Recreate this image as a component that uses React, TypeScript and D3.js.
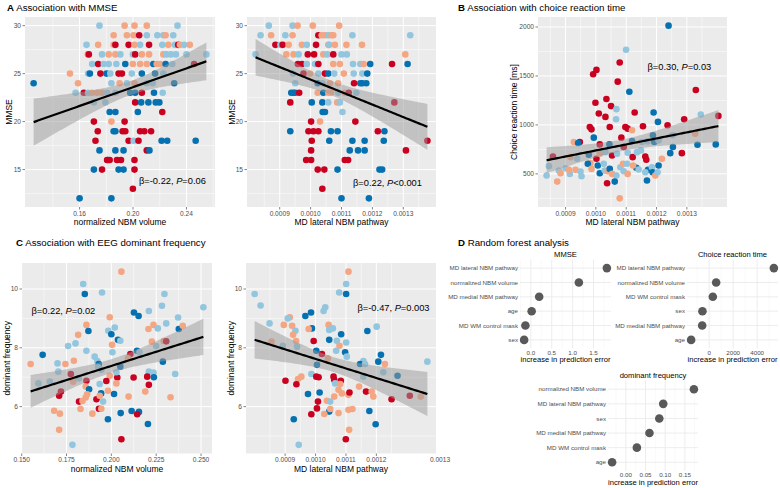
import React from "react";
import * as d3 from "d3";

// x, y, group  (r = dark red, o = light orange, l = light blue, b = dark blue)
type Pt = [number, number, string];

const GROUP_COLORS: Record<string, string> = {
  r: "#ca0020",
  o: "#f4a582",
  l: "#92c5de",
  b: "#0571b0",
};

// --- A: MMSE vs normalized NBM volume
const mmseByVolume: Pt[] = [
  [0.1749, 30, "l"], [0.1937, 30, "o"], [0.2011, 30, "o"], [0.2103, 30, "o"], [0.2333, 30, "l"],
  [0.1855, 29, "o"], [0.1954, 29, "o"], [0.2004, 29, "o"], [0.2046, 29, "r"], [0.2103, 29, "l"], [0.2182, 29, "l"], [0.2227, 29, "l"], [0.2244, 29, "o"], [0.2301, 29, "l"],
  [0.1652, 28, "l"], [0.1739, 28, "o"], [0.1855, 28, "o"], [0.1868, 28, "r"], [0.1967, 28, "r"], [0.2011, 28, "o"], [0.2053, 28, "l"], [0.212, 28, "r"], [0.2219, 28, "l"], [0.2264, 28, "o"], [0.2313, 28, "l"], [0.2338, 28, "r"], [0.2351, 28, "o"], [0.2383, 28, "l"], [0.2425, 28, "o"],
  [0.1662, 27, "o"], [0.1669, 27, "r"], [0.1768, 27, "l"], [0.1818, 27, "o"], [0.1868, 27, "o"], [0.1905, 27, "l"], [0.1999, 27, "l"], [0.2016, 27, "r"], [0.2066, 27, "o"], [0.212, 27, "o"], [0.2227, 27, "o"], [0.2251, 27, "l"], [0.2284, 27, "l"], [0.2321, 27, "l"], [0.24, 27, "l"], [0.2549, 27, "l"],
  [0.1694, 26, "l"], [0.1739, 26, "r"], [0.1781, 26, "l"], [0.1818, 26, "l"], [0.1875, 26, "l"], [0.1942, 26, "b"], [0.1999, 26, "o"], [0.2053, 26, "o"], [0.2103, 26, "o"], [0.2152, 26, "b"], [0.2177, 26, "o"], [0.2202, 26, "o"], [0.2244, 26, "b"], [0.2294, 26, "l"], [0.2457, 26, "r"],
  [0.1528, 25, "o"], [0.1664, 25, "l"], [0.1677, 25, "b"], [0.1756, 25, "r"], [0.1801, 25, "b"], [0.183, 25, "l"], [0.1892, 25, "r"], [0.1917, 25, "r"], [0.1991, 25, "l"], [0.2066, 25, "b"], [0.2165, 25, "b"], [0.2227, 25, "l"],
  [0.1256, 24, "b"], [0.1588, 24, "o"], [0.1838, 24, "l"], [0.19, 24, "o"], [0.1954, 24, "l"], [0.2011, 24, "o"], [0.2103, 24, "l"], [0.2147, 24, "l"], [0.2308, 24, "b"],
  [0.157, 23, "l"], [0.1632, 23, "r"], [0.1664, 23, "l"], [0.1694, 23, "o"], [0.1731, 23, "o"], [0.1768, 23, "o"], [0.1806, 23, "l"], [0.1868, 23, "l"], [0.1979, 23, "b"], [0.2016, 23, "b"], [0.2066, 23, "r"], [0.2157, 23, "b"], [0.2222, 23, "l"],
  [0.1707, 22, "l"], [0.1793, 22, "l"], [0.2016, 22, "r"], [0.2061, 22, "b"], [0.2115, 22, "b"], [0.217, 22, "b"], [0.2197, 22, "b"],
  [0.1825, 21, "b"], [0.1868, 21, "b"], [0.2036, 21, "b"], [0.2219, 21, "r"],
  [0.1707, 20, "r"], [0.1838, 20, "o"], [0.1937, 20, "r"],
  [0.1736, 19, "r"], [0.1855, 19, "b"], [0.1868, 19, "b"], [0.1922, 19, "r"], [0.1942, 19, "r"], [0.2053, 19, "r"], [0.2085, 19, "r"], [0.2135, 19, "r"],
  [0.1719, 18, "r"], [0.1967, 18, "r"], [0.2004, 18, "l"], [0.2041, 18, "r"], [0.2214, 18, "b"], [0.2256, 18, "b"], [0.2469, 18, "b"],
  [0.1749, 17, "b"], [0.1868, 17, "b"], [0.1929, 17, "b"], [0.2103, 17, "r"], [0.2123, 17, "b"],
  [0.1811, 16, "b"], [0.1806, 16, "r"], [0.1825, 16, "r"], [0.188, 16, "r"], [0.191, 16, "r"], [0.2011, 16, "r"],
  [0.1707, 15, "b"], [0.1768, 15, "r"], [0.1892, 15, "b"], [0.1929, 15, "b"], [0.2011, 15, "r"],
  [0.1999, 13, "r"],
  [0.16, 12, "b"], [0.1838, 12, "b"],
];

// --- A: MMSE vs MD lateral NBM pathway
const mmseByLateral: Pt[] = [
  [8.647e-4, 30, "l"], [9.417e-4, 30, "l"], [9.578e-4, 30, "o"], [10.07e-4, 30, "o"], [10.925e-4, 30, "o"],
  [8.38e-4, 29, "l"], [8.722e-4, 29, "o"], [9.182e-4, 29, "l"], [9.417e-4, 29, "o"], [10.251e-4, 29, "r"], [10.358e-4, 29, "o"], [10.465e-4, 29, "o"], [10.572e-4, 29, "l"], [10.679e-4, 29, "o"], [10.733e-4, 29, "o"], [11.353e-4, 29, "l"], [13.225e-4, 29, "l"],
  [8.861e-4, 28, "r"], [9.021e-4, 28, "l"], [9.096e-4, 28, "r"], [9.289e-4, 28, "o"], [9.717e-4, 28, "o"], [9.877e-4, 28, "l"], [10.176e-4, 28, "r"], [10.572e-4, 28, "o"], [10.604e-4, 28, "l"], [10.786e-4, 28, "o"], [11.16e-4, 28, "o"], [11.663e-4, 28, "o"],
  [8.219e-4, 27, "l"], [9.214e-4, 27, "o"], [9.449e-4, 27, "o"], [9.61e-4, 27, "l"], [9.909e-4, 27, "r"], [10.112e-4, 27, "r"], [10.412e-4, 27, "o"], [10.54e-4, 27, "l"], [10.733e-4, 27, "r"], [11.0e-4, 27, "l"], [11.171e-4, 27, "l"], [13.064e-4, 27, "o"],
  [9.588e-4, 26, "r"], [9.717e-4, 26, "r"], [9.877e-4, 26, "l"], [10.144e-4, 26, "l"], [10.251e-4, 26, "r"], [10.733e-4, 26, "o"], [10.947e-4, 26, "o"], [11.374e-4, 26, "l"], [11.61e-4, 26, "l"], [11.717e-4, 26, "o"], [11.93e-4, 26, "b"], [12.636e-4, 26, "r"], [13.139e-4, 26, "b"],
  [9.428e-4, 25, "l"], [9.77e-4, 25, "r"], [9.984e-4, 25, "o"], [10.251e-4, 25, "l"], [10.465e-4, 25, "r"], [10.572e-4, 25, "b"], [10.765e-4, 25, "l"], [11.075e-4, 25, "o"], [11.396e-4, 25, "l"], [11.674e-4, 25, "l"], [11.834e-4, 25, "b"],
  [9.503e-4, 24, "l"], [10.23e-4, 24, "b"], [10.38e-4, 24, "l"], [10.626e-4, 24, "o"], [10.893e-4, 24, "o"], [11.406e-4, 24, "r"], [11.61e-4, 24, "b"], [11.674e-4, 24, "b"], [11.802e-4, 24, "b"],
  [9.374e-4, 23, "b"], [9.449e-4, 23, "b"], [9.503e-4, 23, "b"], [9.631e-4, 23, "r"], [10.23e-4, 23, "o"], [10.412e-4, 23, "b"], [10.572e-4, 23, "o"], [10.658e-4, 23, "o"], [10.893e-4, 23, "l"], [11.107e-4, 23, "o"], [11.235e-4, 23, "r"], [11.481e-4, 23, "l"],
  [9.342e-4, 22, "r"], [10.037e-4, 22, "b"], [10.38e-4, 22, "b"], [10.572e-4, 22, "l"], [10.861e-4, 22, "o"], [10.947e-4, 22, "l"], [12.711e-4, 22, "r"],
  [10.39e-4, 21, "b"], [10.465e-4, 21, "b"], [11.032e-4, 21, "l"],
  [10.016e-4, 20, "r"], [10.305e-4, 20, "o"], [11.449e-4, 20, "r"],
  [9.342e-4, 19, "b"], [9.93e-4, 19, "r"], [10.091e-4, 19, "r"], [10.251e-4, 19, "r"], [10.658e-4, 19, "b"], [10.872e-4, 19, "b"], [12.176e-4, 19, "r"], [12.39e-4, 19, "b"],
  [10.037e-4, 18, "r"], [10.604e-4, 18, "b"], [11.353e-4, 18, "b"], [11.749e-4, 18, "b"], [12.369e-4, 18, "b"], [13.781e-4, 18, "r"],
  [10.016e-4, 17, "r"], [11.267e-4, 17, "b"], [11.535e-4, 17, "b"], [11.749e-4, 17, "b"], [13.086e-4, 17, "r"],
  [9.856e-4, 16, "r"], [10.016e-4, 16, "r"], [11.107e-4, 16, "r"], [11.214e-4, 16, "r"],
  [10.23e-4, 15, "r"], [10.444e-4, 15, "r"], [10.872e-4, 15, "b"], [12.23e-4, 15, "b"], [12.316e-4, 15, "b"],
  [10.38e-4, 13, "r"],
  [11.0e-4, 12, "b"], [11.888e-4, 12, "b"],
];

// --- B: choice reaction time [ms] vs MD lateral NBM pathway
const crtByLateral: Pt[] = [
  [12.397e-4, 2014, "b"], [10.995e-4, 1767, "l"], [10.786e-4, 1637, "r"], [10.019e-4, 1562, "r"], [9.91e-4, 1517, "r"],
  [10.721e-4, 1442, "r"], [11.104e-4, 1339, "b"], [13.296e-4, 1356, "r"], [10.348e-4, 1264, "r"], [9.986e-4, 1226, "r"],
  [10.501e-4, 1192, "r"], [10.677e-4, 1161, "l"], [10.096e-4, 1116, "r"], [11.279e-4, 1127, "r"], [11.904e-4, 1127, "b"],
  [10.315e-4, 1082, "r"], [10.666e-4, 1058, "l"], [12.047e-4, 1031, "b"], [12.912e-4, 1058, "r"], [13.46e-4, 1106, "l"],
  [14.041e-4, 1092, "r"], [9.8e-4, 979, "r"], [9.855e-4, 955, "r"], [10.458e-4, 979, "r"], [10.973e-4, 979, "r"],
  [11.049e-4, 962, "r"], [11.192e-4, 945, "o"], [11.553e-4, 986, "r"], [12.364e-4, 997, "r"], [9.932e-4, 870, "b"],
  [10.841e-4, 870, "r"], [11.882e-4, 894, "b"], [12.529e-4, 894, "l"], [13.274e-4, 911, "o"], [9.274e-4, 825, "o"],
  [9.471e-4, 825, "r"], [9.416e-4, 815, "b"], [10.447e-4, 801, "b"], [10.129e-4, 801, "r"], [10.918e-4, 774, "r"],
  [11.192e-4, 836, "b"], [11.521e-4, 825, "l"], [11.707e-4, 832, "l"], [11.926e-4, 825, "b"], [12.068e-4, 842, "l"],
  [12.54e-4, 774, "b"], [13.953e-4, 801, "b"], [13.351e-4, 798, "b"], [8.584e-4, 678, "r"], [9.164e-4, 671, "o"],
  [9.384e-4, 654, "l"], [9.767e-4, 695, "b"], [10.019e-4, 654, "r"], [10.129e-4, 705, "o"], [10.315e-4, 722, "l"],
  [10.534e-4, 688, "r"], [10.699e-4, 705, "l"], [11.049e-4, 716, "l"], [11.214e-4, 671, "r"], [11.356e-4, 722, "l"],
  [11.488e-4, 740, "l"], [11.63e-4, 678, "r"], [11.663e-4, 644, "r"], [12.452e-4, 712, "b"], [12.836e-4, 712, "r"],
  [8.452e-4, 579, "l"], [8.781e-4, 534, "l"], [8.836e-4, 507, "o"], [9.0e-4, 558, "l"], [9.142e-4, 500, "l"],
  [8.726e-4, 421, "o"], [9.11e-4, 541, "o"], [9.329e-4, 541, "o"], [9.493e-4, 524, "l"], [9.526e-4, 476, "l"],
  [9.822e-4, 610, "o"], [9.734e-4, 603, "b"], [9.855e-4, 551, "o"], [10.063e-4, 586, "b"], [10.129e-4, 507, "b"],
  [10.26e-4, 603, "l"], [10.293e-4, 534, "l"], [10.392e-4, 527, "o"], [10.458e-4, 551, "b"], [10.534e-4, 500, "o"],
  [10.677e-4, 483, "l"], [10.622e-4, 421, "b"], [10.37e-4, 404, "r"], [10.808e-4, 568, "l"], [10.896e-4, 603, "o"],
  [10.918e-4, 527, "l"], [11.027e-4, 603, "l"], [11.049e-4, 500, "o"], [10.786e-4, 250, "o"], [11.334e-4, 562, "b"],
  [11.411e-4, 545, "l"], [11.225e-4, 586, "o"], [11.718e-4, 541, "b"], [11.849e-4, 568, "l"], [11.685e-4, 432, "b"],
  [11.63e-4, 517, "l"], [11.871e-4, 517, "b"], [11.959e-4, 483, "o"], [12.036e-4, 517, "l"], [12.178e-4, 654, "o"],
  [12.068e-4, 586, "b"], [8.375e-4, 483, "l"],
];

// --- C: EEG dominant frequency vs normalized NBM volume
const freqByVolume: Pt[] = [
  [0.2056, 10.59, "o"], [0.1843, 10.17, "l"], [0.1852, 9.83, "b"], [0.1948, 9.88, "l"], [0.2296, 9.83, "l"],
  [0.2282, 9.43, "l"], [0.2513, 9.38, "l"], [0.2126, 9.2, "b"], [0.2152, 9.08, "b"], [0.2209, 9.25, "l"],
  [0.1991, 9.04, "o"], [0.2372, 9.03, "l"], [0.2235, 8.78, "o"], [0.2259, 8.66, "l"], [0.2207, 8.64, "o"],
  [0.2376, 8.64, "b"], [0.2398, 8.75, "o"], [0.2306, 8.83, "l"], [0.1861, 8.78, "o"], [0.2019, 8.69, "l"],
  [0.1983, 8.58, "l"], [0.1872, 8.57, "b"], [0.2, 8.46, "b"], [0.1815, 8.44, "o"], [0.18, 8.15, "l"],
  [0.1759, 8.06, "l"], [0.1617, 7.76, "b"], [0.2004, 8.1, "o"], [0.2037, 8.27, "b"], [0.205, 8.24, "l"],
  [0.2226, 8.21, "o"], [0.225, 8.06, "l"], [0.2292, 8.23, "o"], [0.2306, 8.22, "r"], [0.1861, 7.9, "l"],
  [0.2006, 7.85, "l"], [0.2143, 7.9, "b"], [0.2157, 7.85, "l"], [0.2106, 7.79, "r"], [0.2093, 7.64, "o"],
  [0.1907, 7.7, "l"], [0.1922, 7.55, "l"], [0.1791, 7.56, "o"], [0.1744, 7.45, "o"], [0.17, 7.47, "l"],
  [0.155, 7.45, "o"], [0.193, 7.45, "b"], [0.2287, 7.53, "b"], [0.2356, 7.11, "l"], [0.2209, 7.19, "l"],
  [0.2235, 7.16, "l"], [0.2237, 7.0, "b"], [0.22, 7.02, "r"], [0.2124, 6.99, "r"], [0.2033, 6.99, "r"],
  [0.2028, 7.17, "l"], [0.205, 7.36, "b"], [0.1926, 7.34, "l"], [0.1944, 7.25, "l"], [0.1991, 7.05, "o"],
  [0.2028, 6.79, "o"], [0.1972, 6.87, "r"], [0.1935, 6.77, "l"], [0.1774, 7.11, "r"], [0.1861, 6.88, "r"],
  [0.1819, 6.96, "l"], [0.1857, 6.68, "o"], [0.1787, 6.85, "o"], [0.1593, 6.79, "l"], [0.1657, 6.85, "l"],
  [0.1704, 7.19, "l"], [0.1719, 6.51, "r"], [0.1709, 6.37, "r"], [0.1876, 6.59, "b"], [0.1865, 6.42, "o"],
  [0.1857, 6.31, "o"], [0.182, 6.17, "r"], [0.1839, 6.19, "o"], [0.1943, 6.45, "b"], [0.1917, 6.25, "r"],
  [0.1935, 6.37, "o"], [0.1931, 5.93, "r"], [0.1944, 5.93, "o"], [0.1954, 6.17, "l"], [0.1981, 6.54, "o"],
  [0.2015, 6.43, "b"], [0.2096, 6.34, "o"], [0.2189, 6.51, "o"], [0.2209, 6.74, "r"], [0.233, 6.32, "o"],
  [0.1981, 5.57, "b"], [0.2052, 5.78, "b"], [0.2113, 5.85, "b"], [0.2154, 5.82, "b"], [0.2144, 5.74, "r"],
  [0.2204, 5.41, "b"], [0.1681, 5.86, "o"], [0.1713, 5.76, "o"], [0.1709, 5.21, "o"], [0.1894, 5.76, "o"],
  [0.1828, 5.92, "o"], [0.2056, 4.89, "r"], [0.1783, 4.7, "l"],
];

// --- C: EEG dominant frequency vs MD lateral NBM pathway
const freqByLateral: Pt[] = [
  [11.083e-4, 10.59, "o"], [11.007e-4, 10.17, "l"], [10.778e-4, 9.88, "l"], [11.007e-4, 9.83, "b"], [7.997e-4, 9.83, "l"],
  [8.193e-4, 9.44, "l"], [10.32e-4, 9.38, "l"], [10.265e-4, 9.25, "l"], [9.851e-4, 9.2, "b"], [9.665e-4, 9.08, "b"],
  [9.153e-4, 9.04, "o"], [9.087e-4, 9.0, "l"], [8.487e-4, 8.83, "l"], [8.956e-4, 8.78, "o"], [9.229e-4, 8.75, "o"],
  [9.883e-4, 8.66, "b"], [9.774e-4, 8.64, "o"], [9.338e-4, 8.58, "l"], [10.429e-4, 8.78, "o"], [10.45e-4, 8.61, "l"],
  [10.57e-4, 8.66, "l"], [10.843e-4, 8.46, "b"], [9.262e-4, 8.44, "o"], [11.704e-4, 8.57, "b"], [12.01e-4, 8.72, "l"],
  [9.938e-4, 8.23, "r"], [9.36e-4, 8.23, "o"], [10.45e-4, 8.27, "b"], [10.701e-4, 8.24, "l"], [11.007e-4, 8.18, "l"],
  [10.788e-4, 8.07, "o"], [8.553e-4, 8.21, "o"], [8.924e-4, 8.07, "l"], [9.393e-4, 8.04, "l"], [10.679e-4, 7.9, "l"],
  [10.025e-4, 7.9, "b"], [10.21e-4, 7.79, "r"], [10.974e-4, 7.85, "b"], [11.028e-4, 7.7, "l"], [10.407e-4, 7.64, "o"],
  [12.152e-4, 7.76, "b"], [12.064e-4, 7.53, "b"], [12.282e-4, 7.45, "o"], [11.574e-4, 7.55, "l"], [11.465e-4, 7.45, "b"],
  [11.628e-4, 7.45, "l"], [13.678e-4, 7.53, "l"], [10.047e-4, 7.42, "b"], [9.862e-4, 7.11, "l"], [10.025e-4, 7.02, "r"],
  [10.101e-4, 7.0, "r"], [10.592e-4, 7.02, "r"], [10.614e-4, 6.91, "r"], [10.832e-4, 6.88, "r"], [10.647e-4, 6.79, "l"],
  [10.81e-4, 6.77, "o"], [9.534e-4, 7.02, "o"], [9.425e-4, 6.94, "o"], [9.011e-4, 6.88, "r"], [9.371e-4, 6.76, "r"],
  [12.697e-4, 7.05, "b"], [12.228e-4, 7.17, "l"], [11.574e-4, 7.02, "l"], [11.432e-4, 6.68, "o"], [11.661e-4, 6.51, "r"],
  [11.846e-4, 6.51, "o"], [11.901e-4, 6.34, "o"], [12.501e-4, 6.25, "r"], [13.1e-4, 6.37, "r"], [13.46e-4, 6.34, "o"],
  [9.752e-4, 6.43, "b"], [10.134e-4, 6.48, "b"], [10.756e-4, 6.57, "o"], [10.865e-4, 6.45, "o"], [11.083e-4, 6.4, "o"],
  [11.116e-4, 6.48, "r"], [10.614e-4, 6.34, "o"], [10.374e-4, 6.2, "o"], [10.483e-4, 6.17, "l"], [10.08e-4, 6.17, "r"],
  [10.047e-4, 5.94, "r"], [10.45e-4, 5.83, "b"], [10.483e-4, 5.92, "o"], [9.862e-4, 5.74, "r"], [10.287e-4, 5.75, "o"],
  [10.756e-4, 5.78, "o"], [11.083e-4, 5.89, "o"], [11.214e-4, 5.92, "o"], [11.77e-4, 5.85, "b"], [9.284e-4, 5.57, "b"],
  [11.977e-4, 5.4, "b"], [11.105e-4, 5.21, "o"], [10.996e-4, 4.89, "r"], [9.447e-4, 4.7, "l"],
];

// --- D: random forest variable importance (top to bottom)
const rfMmseVars = ["MD lateral NBM pathway", "normalized NBM volume", "MD medial NBM pathway", "age", "MD WM control mask", "sex"];
const rfMmseVals = [1.82, 1.15, 0.2, 0.02, -0.13, -0.16];
const rfCrtVars = ["MD lateral NBM pathway", "normalized NBM volume", "MD WM control mask", "sex", "MD medial NBM pathway", "age"];
const rfCrtVals = [5390, 583, 306, -558, -580, -1500];
const rfFreqVars = ["normalized NBM volume", "MD lateral NBM pathway", "sex", "MD medial NBM pathway", "MD WM control mask", "age"];
const rfFreqVals = [0.173, 0.095, 0.085, 0.06, 0.028, -0.035];

// tick values
const ticksVolA = [0.16, 0.2, 0.24];
const ticksMmse = [15, 20, 25, 30];
const ticksLateral = [0.0009, 0.001, 0.0011, 0.0012, 0.0013];
const ticksCrt = [500, 1000, 1500, 2000];
const ticksVolC = [0.15, 0.175, 0.2, 0.225, 0.25];
const ticksFreq = [6, 8, 10];
const ticksLateralC = [0.0009, 0.001, 0.0011, 0.0012];
const ticksRfMmse = [0, 0.5, 1, 1.5];
const ticksRfCrt = [0, 2000, 4000];
const ticksRfFreq = [0, 0.05, 0.1, 0.15];

const FONT = "'Liberation Sans', Arial, Helvetica, sans-serif";

interface Box { l: number; r: number; t: number; b: number }

const expand = (lo: number, hi: number, f = 0.05): [number, number] => {
  const d = hi - lo;
  return [lo - d * f, hi + d * f];
};

const minorOf = (ticks: number[], dom: number[]) => {
  const step = ticks[1] - ticks[0];
  const out = [ticks[0] - step / 2, ...ticks.map((t) => t + step / 2)];
  return out.filter((v) => v > Math.min(dom[0], dom[1]) && v < Math.max(dom[0], dom[1]));
};

interface ScatterProps {
  data: Pt[];
  box: Box;
  xTicks: number[];
  yTicks: number[];
  xFmt: (v: number) => string;
  yFmt: (v: number) => string;
  xTitle: string;
  yTitle: string;
  yTitleX: number;
  note: [string, string];
  noteX: number;
  noteY: number;
  edgeLabel?: string;
}

const Scatter: React.FC<ScatterProps> = ({
  data, box, xTicks, yTicks, xFmt, yFmt, xTitle, yTitle, yTitleX, note, noteX, noteY, edgeLabel,
}) => {
  const [xMin, xMax] = d3.extent(data, (d) => d[0]) as [number, number];
  const [yMin, yMax] = d3.extent(data, (d) => d[1]) as [number, number];
  const x = d3.scaleLinear().domain(expand(xMin, xMax)).range([box.l, box.r]);
  const y = d3.scaleLinear().domain(expand(yMin, yMax)).range([box.b, box.t]);

  // linear fit with 95% band
  const n = data.length;
  const mx = d3.mean(data, (d) => d[0])!;
  const my = d3.mean(data, (d) => d[1])!;
  const sxx = d3.sum(data, (d) => (d[0] - mx) ** 2);
  const sxy = d3.sum(data, (d) => (d[0] - mx) * (d[1] - my));
  const slope = sxy / sxx;
  const icpt = my - slope * mx;
  const rss = d3.sum(data, (d) => (d[1] - (icpt + slope * d[0])) ** 2);
  const s = Math.sqrt(rss / (n - 2));
  const tq = 1.98;
  const grid = d3.range(0, 81).map((i) => xMin + ((xMax - xMin) * i) / 80);
  const band = grid.map((gx) => {
    const fit = icpt + slope * gx;
    const se = s * Math.sqrt(1 / n + (gx - mx) ** 2 / sxx);
    return { gx, fit, lo: fit - tq * se, hi: fit + tq * se };
  });
  const area = d3
    .area<{ gx: number; lo: number; hi: number }>()
    .x((d) => x(d.gx))
    .y0((d) => y(d.lo))
    .y1((d) => y(d.hi));
  const line = d3
    .line<{ gx: number; fit: number }>()
    .x((d) => x(d.gx))
    .y((d) => y(d.fit));

  const xMinor = minorOf(xTicks, x.domain());
  const yMinor = minorOf(yTicks, y.domain());
  const clipId = `clip-${Math.round(box.l)}-${Math.round(box.t)}`;

  return (
    <g fontFamily={FONT}>
      <defs>
        <clipPath id={clipId}>
          <rect x={box.l} y={box.t} width={box.r - box.l} height={box.b - box.t} />
        </clipPath>
      </defs>
      <rect x={box.l} y={box.t} width={box.r - box.l} height={box.b - box.t} fill="#ebebeb" />
      {xMinor.map((v) => (
        <line key={`xm${v}`} x1={x(v)} x2={x(v)} y1={box.t} y2={box.b} stroke="#fff" strokeWidth={0.5} />
      ))}
      {yMinor.map((v) => (
        <line key={`ym${v}`} x1={box.l} x2={box.r} y1={y(v)} y2={y(v)} stroke="#fff" strokeWidth={0.5} />
      ))}
      {xTicks.map((v) => (
        <line key={`xg${v}`} x1={x(v)} x2={x(v)} y1={box.t} y2={box.b} stroke="#fff" strokeWidth={1} />
      ))}
      {yTicks.map((v) => (
        <line key={`yg${v}`} x1={box.l} x2={box.r} y1={y(v)} y2={y(v)} stroke="#fff" strokeWidth={1} />
      ))}
      <g clipPath={`url(#${clipId})`}>
        {data.map((d, i) => (
          <circle key={i} cx={x(d[0])} cy={y(d[1])} r={3.3} fill={GROUP_COLORS[d[2]]} />
        ))}
        <path d={area(band) ?? ""} fill="#999999" fillOpacity={0.5} />
        <path d={line(band) ?? ""} fill="none" stroke="#000" strokeWidth={2.2} />
      </g>
      {/* axes */}
      {xTicks.map((v) => (
        <g key={`xt${v}`}>
          <line x1={x(v)} x2={x(v)} y1={box.b} y2={box.b + 2.5} stroke="#333" strokeWidth={0.6} />
          <text x={x(v)} y={box.b + 8.5} fontSize={6.6} fill="#4d4d4d" textAnchor="middle">
            {xFmt(v)}
          </text>
        </g>
      ))}
      {edgeLabel && (
        <text x={box.r + 4} y={box.b + 8.5} fontSize={6.6} fill="#4d4d4d" textAnchor="middle">
          {edgeLabel}
        </text>
      )}
      {yTicks.map((v) => (
        <g key={`yt${v}`}>
          <line x1={box.l - 2.5} x2={box.l} y1={y(v)} y2={y(v)} stroke="#333" strokeWidth={0.6} />
          <text x={box.l - 4} y={y(v) + 2.4} fontSize={6.6} fill="#4d4d4d" textAnchor="end">
            {yFmt(v)}
          </text>
        </g>
      ))}
      <text x={(box.l + box.r) / 2} y={box.b + 18} fontSize={8.5} textAnchor="middle" fill="#000">
        {xTitle}
      </text>
      <text
        transform={`translate(${yTitleX},${(box.t + box.b) / 2}) rotate(-90)`}
        fontSize={8.5}
        textAnchor="middle"
        dy={3}
        fill="#000"
      >
        {yTitle}
      </text>
      <text x={noteX} y={noteY} fontSize={9.3} fill="#000">
        {note[0]}
        <tspan fontStyle="italic">P</tspan>
        {note[1]}
      </text>
    </g>
  );
};

interface RfProps {
  vars: string[];
  vals: number[];
  box: Box;
  ticks: number[];
  fmt: (v: number) => string;
  title: string;
}

const RfPanel: React.FC<RfProps> = ({ vars, vals, box, ticks, fmt, title }) => {
  const [lo, hi] = d3.extent(vals) as [number, number];
  const x = d3.scaleLinear().domain(expand(lo, hi)).range([box.l, box.r]);
  const y = d3.scalePoint<string>().domain(vars).range([box.t, box.b]).padding(0.6);
  const minor = minorOf(ticks, x.domain());
  return (
    <g fontFamily={FONT}>
      {minor.map((v) => (
        <line key={`m${v}`} x1={x(v)} x2={x(v)} y1={box.t} y2={box.b} stroke="#f2f2f2" strokeWidth={0.5} />
      ))}
      {ticks.map((v) => (
        <line key={`g${v}`} x1={x(v)} x2={x(v)} y1={box.t} y2={box.b} stroke="#ebebeb" strokeWidth={0.9} />
      ))}
      {vars.map((v) => (
        <line key={`h${v}`} x1={box.l} x2={box.r} y1={y(v)!} y2={y(v)!} stroke="#ebebeb" strokeWidth={0.9} />
      ))}
      {vars.map((v, i) => (
        <circle key={`p${v}`} cx={x(vals[i])} cy={y(v)!} r={4.3} fill="#595959" />
      ))}
      {vars.map((v) => (
        <text key={`l${v}`} x={box.l - 2} y={y(v)! + 2.1} fontSize={6.2} fill="#4d4d4d" textAnchor="end">
          {v}
        </text>
      ))}
      {ticks.map((v) => (
        <text key={`t${v}`} x={x(v)} y={box.b + 6} fontSize={6.2} fill="#4d4d4d" textAnchor="middle">
          {fmt(v)}
        </text>
      ))}
      <text x={(box.l + box.r) / 2} y={box.b + 13.5} fontSize={7.6} textAnchor="middle" fill="#000">
        increase in prediction error
      </text>
      <text x={(box.l + box.r) / 2} y={box.t - 2.5} fontSize={7.6} textAnchor="middle" fill="#000">
        {title}
      </text>
    </g>
  );
};

const Heading: React.FC<{ x: number; y: number; letter: string; text: string }> = ({ x, y, letter, text }) => (
  <text x={x} y={y} fontFamily={FONT} fontSize={9.7} fill="#000">
    <tspan fontWeight="bold">{letter}</tspan> {text}
  </text>
);

const f2 = d3.format(".2f");
const f3 = d3.format(".3f");
const f4 = d3.format(".4f");
const f1 = d3.format(".1f");
const fd = d3.format("d");

export default function App() {
  return (
    <svg
      width={780}
      height={488}
      style={{ position: "absolute", left: 0, top: 0, background: "#fff" }}
    >
      <rect width={780} height={488} fill="#fff" />
      <Heading x={7} y={10.5} letter="A" text="Association with MMSE" />
      <Heading x={458} y={10.5} letter="B" text="Association with choice reaction time" />
      <Heading x={16} y={246} letter="C" text="Association with EEG dominant frequency" />
      <Heading x={458} y={246} letter="D" text="Random forest analysis" />

      <Scatter
        data={mmseByVolume}
        box={{ l: 25, r: 215, t: 17, b: 207 }}
        xTicks={ticksVolA}
        yTicks={ticksMmse}
        xFmt={f2}
        yFmt={fd}
        xTitle="normalized NBM volume"
        yTitle="MMSE"
        yTitleX={8.5}
        note={["β=-0.22, ", "=0.06"]}
        noteX={139}
        noteY={183.5}
      />
      <Scatter
        data={mmseByLateral}
        box={{ l: 247, r: 436, t: 17, b: 207 }}
        xTicks={ticksLateral}
        yTicks={ticksMmse}
        xFmt={f4}
        yFmt={fd}
        xTitle="MD lateral NBM pathway"
        yTitle="MMSE"
        yTitleX={232}
        note={["β=0.22, ", "<0.001"]}
        noteX={353}
        noteY={186}
      />
      <Scatter
        data={crtByLateral}
        box={{ l: 538, r: 727, t: 17, b: 207 }}
        xTicks={ticksLateral}
        yTicks={ticksCrt}
        xFmt={f4}
        yFmt={fd}
        xTitle="MD lateral NBM pathway"
        yTitle="Choice reaction time [ms]"
        yTitleX={514}
        note={["β=0.30, ", "=0.03"]}
        noteX={647.5}
        noteY={70}
      />
      <Scatter
        data={freqByVolume}
        box={{ l: 22, r: 212, t: 263, b: 453.5 }}
        xTicks={ticksVolC}
        yTicks={ticksFreq}
        xFmt={f3}
        yFmt={fd}
        xTitle="normalized NBM volume"
        yTitle="dominant frequency"
        yTitleX={7}
        note={["β=0.22, ", "=0.02"]}
        noteX={31.5}
        noteY={313.5}
      />
      <Scatter
        data={freqByLateral}
        box={{ l: 246, r: 436, t: 263, b: 453.5 }}
        xTicks={ticksLateralC}
        yTicks={ticksFreq}
        xFmt={f4}
        yFmt={fd}
        xTitle="MD lateral NBM pathway"
        yTitle="dominant frequency"
        yTitleX={231}
        note={["β=-0.47, ", "=0.003"]}
        noteX={357.5}
        noteY={311}
        edgeLabel="0.0013"
      />

      <RfPanel vars={rfMmseVars} vals={rfMmseVals} box={{ l: 520, r: 611, t: 259.5, b: 348.5 }} ticks={ticksRfMmse} fmt={f1} title="MMSE" />
      <RfPanel vars={rfCrtVars} vals={rfCrtVals} box={{ l: 687, r: 778, t: 259.5, b: 348.5 }} ticks={ticksRfCrt} fmt={fd} title="Choice reaction time" />
      <RfPanel vars={rfFreqVars} vals={rfFreqVals} box={{ l: 608, r: 698, t: 380.5, b: 471 }} ticks={ticksRfFreq} fmt={f2} title="dominant frequency" />
    </svg>
  );
}
